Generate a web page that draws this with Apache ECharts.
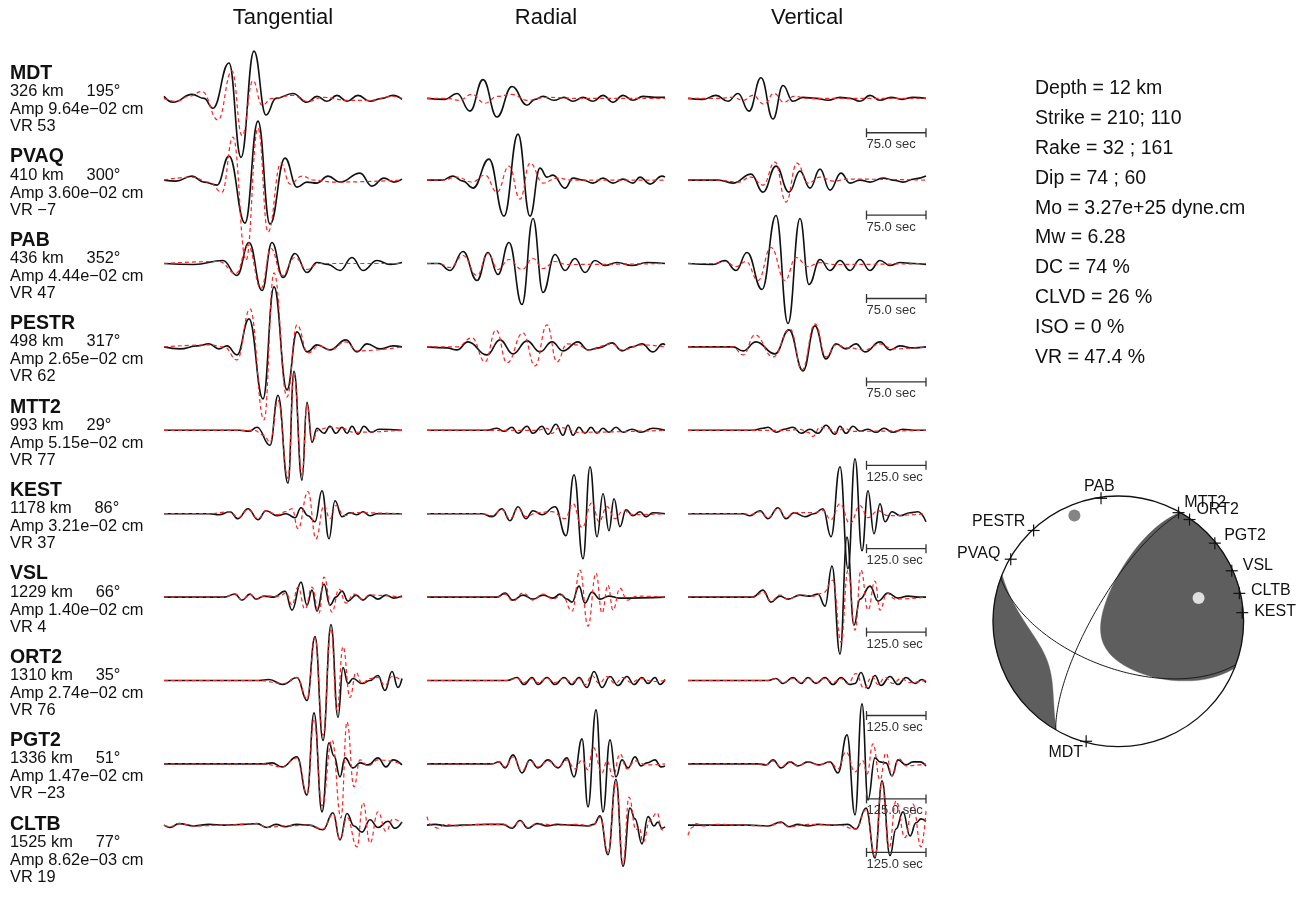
<!DOCTYPE html>
<html>
<head>
<meta charset="utf-8">
<script src="https://cdn.jsdelivr.net/npm/echarts@6/dist/echarts.min.js"></script>
<style>
  html, body { margin: 0; padding: 0; background: #ffffff; }
  #chart { width: 1303px; height: 903px; }
</style>
</head>
<body>
<div id="chart"></div>
<script>
// ---- station table ----
const stationNames = ['MDT', 'PVAQ', 'PAB', 'PESTR', 'MTT2', 'KEST', 'VSL', 'ORT2', 'PGT2', 'CLTB'];
const distanceKm = [326, 410, 436, 498, 993, 1178, 1229, 1310, 1336, 1525];
const azimuthDeg = [195, 300, 352, 317, 29, 86, 66, 35, 51, 77];
const ampCm = [9.64e-2, 3.60e-2, 4.44e-2, 2.65e-2, 5.15e-2, 3.21e-2, 1.40e-2, 2.74e-2, 1.47e-2, 8.62e-3];
const varianceReduction = [53, -7, 47, 62, 77, 37, 4, 76, -23, 19];
const componentNames = ['Tangential', 'Radial', 'Vertical'];
const windowSec = [300, 300, 300, 300, 500, 500, 500, 500, 500, 500];
const scaleBarSec = [75, 75, 75, 75, 125, 125, 125, 125, 125, 125];
const samplesPerWindow = 238;

// ---- solution ----
const depthKm = 12;
const strikeDeg = [210, 110];
const rakeDeg = [32, 161];
const dipDeg = [74, 60];
const momentDyneCm = 3.27e25;
const mw = 6.28;
const dcPct = 74;
const clvdPct = 26;
const isoPct = 0;
const totalVR = 47.4;

// ---- waveforms: pairs of [sample, normalized amplitude] at turning points ----
const obsTangential = [
  [0,2, 9,-4, 28,4, 40,0, 49,-10, 65,36, 77,-60, 90,48, 102,-17, 112,0, 129,5, 143,-4, 153,2, 163,-3, 173,3, 183,-3, 194,3, 206,-3, 218,0, 229,3, 238,-1],
  [0,0, 12,-1, 28,4, 40,-2, 53,-5, 65,24, 81,-43, 94,59, 106,-44, 121,22, 133,-7, 143,-2, 153,-3, 164,4, 176,-2, 196,7, 208,-6, 220,2, 230,-2, 238,1],
  [0,0, 30,-1, 59,3, 73,-12, 85,21, 98,-27, 108,21, 119,-14, 131,10, 143,-9, 153,1, 164,-1, 176,-7, 188,6, 199,-7, 213,3, 226,-1, 238,1],
  [0,0, 16,-2, 33,1, 45,3, 55,-2, 63,1, 73,-8, 85,28, 99,-52, 110,60, 123,-43, 133,15, 143,-5, 153,2, 166,-3, 182,7, 193,-5, 203,3, 216,-2, 229,1, 238,0],
  [0,0, 75,0, 85,-1, 93,3, 106,-15, 114,35, 124,-53, 130,59, 138,-50, 143,28, 148,-12, 153,2, 160,-3, 166,4, 172,-3, 178,3, 183,-3, 188,4, 194,-4, 200,4, 207,-2, 215,1, 238,0],
  [0,0, 45,0, 55,-1, 66,2, 74,-5, 84,5, 94,-6, 102,3, 113,-2, 122,0, 131,-4, 137,6, 144,-2, 151,-8, 158,23, 165,-25, 171,13, 178,-3, 186,1, 193,-1, 199,2, 206,-2, 213,0, 238,0],
  [0,0, 60,0, 71,3, 78,-3, 86,3, 92,-2, 100,1, 110,0, 121,6, 128,-13, 137,15, 143,-8, 148,7, 153,-14, 160,13, 166,-8, 172,0, 178,6, 184,-4, 192,2, 199,-3, 206,2, 214,-2, 222,2, 230,-1, 238,1],
  [0,0, 95,0, 105,1, 119,-4, 133,3, 143,-20, 151,44, 159,-60, 167,56, 174,-37, 179,13, 184,-3, 189,2, 198,-3, 206,0, 214,5, 221,-10, 228,9, 234,-7, 238,2],
  [0,0, 100,0, 108,1, 118,-3, 133,7, 143,-31, 150,51, 158,-48, 165,21, 170,8, 176,-13, 181,6, 189,-4, 196,1, 204,-1, 214,6, 222,-3, 229,4, 238,-1],
  [0,0, 6,-3, 15,2, 30,-1, 45,1, 60,0, 80,1, 93,2, 103,-3, 112,1, 121,-2, 133,1, 145,0, 159,-6, 169,16, 176,-19, 183,15, 190,-1, 198,-9, 206,7, 214,-3, 224,5, 231,-4, 238,4]
];
const synTangential = [
  [0,0, 12,-3, 25,2, 38,7, 54,-22, 68,28, 78,-38, 89,18, 98,-7, 108,0, 129,3, 143,-3, 160,1, 183,-2, 206,-2, 229,2, 238,0],
  [0,0, 28,3, 45,-2, 58,-12, 69,43, 82,-80, 94,52, 104,-52, 117,17, 126,-4, 138,4, 150,0, 170,-2, 238,0],
  [0,0, 55,2, 72,-10, 84,18, 97,-25, 107,15, 118,-12, 131,6, 143,-6, 155,0, 238,0],
  [0,0, 45,2, 60,0, 73,-13, 86,38, 100,-73, 110,74, 123,-50, 133,22, 144,-6, 155,1, 166,-3, 182,5, 193,-4, 238,0],
  [0,0, 90,0, 100,-5, 106,-12, 114,30, 124,-48, 130,55, 138,-45, 143,25, 148,-10, 155,1, 166,3, 178,2, 190,-2, 238,0],
  [0,0, 45,0, 66,2, 74,-4, 84,4, 94,-5, 102,3, 113,-1, 122,2, 128,5, 134,-15, 144,22, 152,-25, 160,8, 166,-5, 172,8, 180,-2, 190,1, 238,0],
  [0,0, 60,0, 71,3, 78,-3, 86,3, 92,-2, 100,1, 115,1, 122,4, 128,-8, 134,10, 141,-12, 148,10, 155,-16, 160,20, 168,-15, 175,8, 182,-6, 190,3, 198,-2, 206,2, 238,0],
  [0,0, 95,0, 119,-3, 133,3, 143,-18, 151,42, 159,-55, 167,52, 173,-30, 179,34, 186,-17, 192,8, 198,-3, 206,2, 214,3, 221,-5, 228,4, 238,0],
  [0,0, 100,0, 118,-3, 133,6, 143,-30, 150,45, 158,-42, 168,24, 177,-54, 183,42, 190,-23, 196,4, 204,-2, 214,4, 238,0],
  [0,0, 6,-2, 15,2, 30,-1, 60,0, 93,2, 103,-3, 121,-1, 145,0, 159,-5, 169,14, 176,-18, 183,10, 193,-28, 199,29, 206,-23, 214,17, 222,-8, 229,8, 238,2]
];
const obsRadial = [
  [0,0, 18,-1, 30,5, 43,-13, 56,19, 70,-19, 85,12, 100,-7, 108,-1, 116,2, 127,-2, 137,1, 146,-3, 156,1, 166,-3, 176,3, 186,-4, 196,3, 206,-2, 216,2, 228,1, 238,1],
  [0,0, 15,0, 26,4, 36,-1, 46,-8, 62,21, 77,-36, 91,46, 103,-36, 113,12, 120,3, 126,5, 138,-8, 146,2, 156,0, 166,-3, 176,2, 186,-3, 196,1, 206,-3, 213,3, 223,-4, 235,4, 238,3],
  [0,0, 12,0, 23,-7, 36,12, 50,-17, 61,11, 71,-11, 82,21, 95,-41, 106,45, 116,-29, 128,9, 138,-7, 148,5, 158,-9, 168,3, 178,-2, 190,1, 205,-2, 220,1, 238,0],
  [0,0, 20,-1, 30,-3, 41,5, 60,-8, 73,7, 86,-7, 100,6, 113,-5, 125,5, 136,-4, 151,5, 161,-3, 172,-1, 185,4, 195,-4, 205,0, 215,3, 226,-5, 236,3, 238,2],
  [0,0, 60,0, 70,2, 77,-1, 85,3, 91,-3, 100,4, 106,-3, 115,4, 121,-4, 129,6, 136,-5, 141,5, 146,-5, 152,3, 158,-3, 164,3, 170,-3, 176,2, 182,-2, 189,3, 196,-2, 205,1, 214,-2, 226,2, 238,0],
  [0,0, 55,0, 65,-3, 75,5, 83,-7, 91,7, 99,-5, 106,3, 115,-1, 128,7, 139,-22, 147,39, 156,-45, 163,47, 170,-23, 176,20, 182,-17, 187,15, 193,-13, 199,4, 206,-2, 213,2, 219,-3, 226,1, 238,0],
  [0,0, 70,0, 78,4, 86,-3, 96,2, 106,-2, 116,2, 126,-1, 133,3, 140,-2, 145,-5, 152,11, 158,-6, 165,5, 173,-2, 182,1, 192,-1, 238,0],
  [0,0, 80,0, 90,3, 97,-4, 105,3, 111,-4, 120,3, 128,-4, 137,3, 145,-4, 152,3, 160,-7, 167,9, 175,-7, 183,4, 191,-5, 200,4, 207,-4, 215,3, 221,-3, 228,3, 233,-4, 238,1],
  [0,0, 65,0, 72,2, 78,-4, 86,9, 95,-9, 103,4, 111,-4, 121,4, 131,-4, 140,6, 147,-13, 155,25, 161,-43, 169,54, 176,-48, 183,24, 189,-13, 195,4, 201,-4, 208,7, 214,-2, 220,1, 228,4, 234,-3, 238,-2],
  [0,0, 8,1, 20,-1, 35,0, 60,1, 76,1, 85,-4, 93,6, 101,-4, 110,2, 120,-1, 130,1, 145,0, 160,-1, 167,1, 173,12, 181,-38, 189,59, 196,-53, 203,22, 208,8, 215,-24, 221,11, 227,-1, 231,4, 235,-4, 238,-2]
];
const synRadial = [
  [0,0, 20,0, 32,-2, 45,4, 58,-5, 70,2, 85,4, 100,-2, 120,1, 150,0, 238,0],
  [0,0, 15,0, 30,3, 45,-2, 58,5, 70,-12, 82,14, 93,-19, 103,17, 116,-3, 130,2, 145,0, 238,0],
  [0,0, 12,0, 23,-4, 36,8, 50,-12, 61,10, 71,-6, 82,4, 95,-6, 106,5, 116,-5, 128,2, 140,-1, 238,0],
  [0,0, 30,0, 45,9, 58,-15, 69,17, 80,-16, 96,14, 108,-19, 120,22, 130,-15, 140,3, 151,2, 161,-3, 185,3, 195,-3, 215,2, 238,0],
  [0,0, 110,0, 120,2, 125,-3, 132,3, 140,2, 148,-2, 238,0],
  [0,0, 55,0, 65,-2, 75,4, 83,-5, 91,5, 99,-3, 110,1, 125,2, 138,-5, 146,10, 155,-14, 165,11, 172,-8, 180,7, 188,-5, 196,3, 206,-1, 238,0],
  [0,0, 70,0, 78,3, 86,-4, 96,4, 106,-3, 116,3, 126,-2, 135,2, 145,-14, 153,27, 161,-29, 169,24, 175,-16, 181,12, 186,-13, 193,9, 200,-3, 210,1, 238,0],
  [0,0, 80,0, 90,2, 97,-2, 105,2, 111,-2, 120,2, 128,-2, 137,2, 145,-2, 152,2, 158,-4, 165,5, 172,-3, 180,4, 188,-3, 196,3, 204,-2, 214,2, 226,-1, 238,0],
  [0,0, 65,0, 72,2, 78,-3, 86,7, 95,-7, 103,3, 111,-3, 121,3, 131,-3, 140,4, 148,-5, 155,4, 161,-6, 166,17, 175,-9, 180,3, 186,-13, 193,10, 200,-5, 208,3, 220,-1, 238,0],
  [0,11, 4,0, 11,-4, 18,1, 30,-1, 50,1, 76,1, 85,-3, 93,5, 101,-3, 110,2, 130,0, 150,1, 165,-1, 173,10, 181,-35, 189,55, 196,-50, 202,36, 209,-6, 212,-2, 216,-22, 223,6, 230,16, 235,-6, 238,-2]
];
const obsVertical = [
  [0,0, 15,-1, 28,3, 40,-3, 50,5, 61,-13, 73,21, 85,-21, 95,13, 105,-3, 115,1, 128,0, 140,-2, 152,1, 162,0, 172,-3, 182,3, 192,-2, 203,1, 214,-1, 225,1, 238,0],
  [0,0, 30,0, 45,-3, 63,6, 75,-12, 88,14, 101,-12, 112,9, 122,-8, 132,11, 142,-10, 153,7, 162,-3, 172,0, 182,-2, 195,2, 205,0, 215,-2, 226,1, 238,4],
  [0,0, 25,-1, 37,3, 48,-7, 59,11, 74,-26, 88,48, 100,-60, 112,45, 121,-21, 132,4, 142,-7, 152,3, 162,-7, 172,4, 182,-7, 192,3, 202,-2, 212,1, 225,0, 238,-1],
  [0,0, 45,0, 55,-4, 68,5, 87,-7, 101,17, 115,-24, 127,21, 138,-12, 148,3, 158,-2, 168,3, 177,-5, 192,5, 202,-3, 212,1, 225,-1, 238,0],
  [0,0, 65,0, 75,2, 80,3, 88,-2, 96,1, 105,3, 113,-3, 122,1, 130,-3, 138,5, 147,-4, 152,4, 158,-3, 165,4, 172,-1, 180,1, 188,-2, 196,2, 205,-2, 215,1, 226,0, 238,0],
  [0,0, 55,0, 62,-2, 72,3, 80,-5, 90,6, 98,-5, 106,1, 117,-3, 126,0, 135,5, 143,-23, 152,47, 160,-55, 167,55, 174,-37, 180,23, 186,-20, 192,10, 197,-8, 204,2, 212,-2, 222,1, 230,2, 238,-8],
  [0,0, 65,0, 75,7, 83,-5, 92,1, 100,-2, 112,2, 122,1, 130,3, 137,-9, 144,31, 152,-57, 159,60, 166,-28, 172,-2, 182,11, 190,-4, 200,4, 210,-1, 220,1, 230,0, 238,0],
  [0,0, 80,0, 88,2, 95,-3, 105,3, 113,-3, 120,3, 128,-3, 137,3, 145,-4, 153,3, 162,-4, 167,-3, 173,8, 180,-8, 187,5, 193,-5, 202,4, 210,-4, 218,3, 227,-3, 234,1, 238,-2],
  [0,0, 70,0, 78,-1, 85,4, 93,-4, 102,2, 110,-2, 120,2, 131,-1, 142,2, 150,-9, 159,29, 167,-51, 174,60, 180,-36, 187,6, 192,2, 198,1, 204,-12, 210,4, 218,-1, 225,2, 232,2, 238,-2],
  [0,0, 30,0, 60,0, 80,-1, 93,4, 101,-2, 110,1, 120,-1, 130,1, 145,0, 160,1, 168,-5, 178,22, 187,-42, 194,57, 202,-39, 208,-5, 215,17, 222,-14, 228,3, 233,8, 238,5]
];
const synVertical = [
  [0,0, 30,0, 45,1, 55,-2, 65,3, 76,-6, 86,5, 96,-4, 106,2, 120,0, 238,0],
  [0,0, 30,0, 50,-2, 63,3, 75,-5, 87,18, 98,-22, 109,17, 120,-3, 132,3, 145,-1, 160,1, 238,0],
  [0,0, 25,0, 37,2, 48,-3, 58,2, 70,-17, 83,16, 97,-17, 108,6, 120,-3, 132,1, 145,-1, 238,0],
  [0,0, 45,0, 55,-8, 67,12, 85,-10, 102,18, 114,-23, 127,23, 138,-10, 148,2, 160,-1, 177,-3, 192,3, 205,-2, 238,0],
  [0,0, 100,0, 112,1, 120,-2, 125,-6, 132,3, 140,2, 148,-2, 156,2, 165,-1, 238,0],
  [0,0, 55,0, 62,-1, 72,2, 80,-4, 90,5, 98,-4, 106,1, 125,1, 135,3, 143,-6, 152,10, 162,-10, 172,8, 180,-4, 190,3, 200,-2, 238,0],
  [0,0, 65,0, 75,5, 83,-4, 92,2, 100,-2, 112,2, 125,1, 135,4, 145,17, 153,-45, 160,27, 167,-33, 173,27, 180,-13, 187,16, 192,-13, 199,4, 207,-2, 238,0],
  [0,0, 80,0, 88,2, 95,-2, 105,2, 113,-2, 120,2, 128,-2, 137,2, 145,-2, 153,2, 160,-3, 168,7, 176,-8, 184,4, 190,-4, 197,3, 205,-3, 213,2, 222,-2, 238,0],
  [0,0, 70,0, 78,-1, 85,3, 93,-3, 102,2, 110,-2, 120,2, 131,-1, 142,2, 150,-5, 158,12, 167,-8, 175,3, 179,-10, 185,20, 192,-16, 198,11, 204,-12, 211,5, 218,-2, 238,0],
  [0,-13, 4,-3, 8,2, 15,-1, 30,1, 50,0, 80,-1, 93,3, 101,-2, 120,1, 150,0, 168,-5, 178,20, 187,-40, 194,55, 201,-30, 208,31, 217,-16, 225,27, 233,-28, 238,18]
];

// ---- layout ----
const FONT = '"Liberation Sans", Arial, Helvetica, sans-serif';
const panelLeft = [164, 427, 688];
const panelWidth = 238;
const firstBaseline = 96.7;
const rowStep = 83.4;
const halfHeight = 100;             // one amplitude unit per pixel
const scaleBarOffset = -35;         // bar sits below the vertical trace
const ballBox = { left: 993, top: 496, size: 250.6 };

const observed = [obsTangential, obsRadial, obsVertical];
const synthetic = [synTangential, synRadial, synVertical];

function tracePoints(flat, win) {
  const pts = [];
  for (let i = 0; i < flat.length; i += 2) {
    pts.push([flat[i] * win / samplesPerWindow, flat[i + 1]]);
  }
  return pts;
}
function fmtExp(x) {
  const parts = x.toExponential(2).split('e');
  const n = parseInt(parts[1], 10);
  return parts[0] + 'e' + (n < 0 ? '\u2212' : '+') + String(Math.abs(n)).padStart(2, '0');
}
function fmtSigned(v) { return v < 0 ? '\u2212' + Math.abs(v) : String(v); }
function textEl(x, y, text, font, align) {
  return {
    type: 'text', x: x, y: y, silent: true,
    style: { text: text, font: font, fill: '#111', align: align || 'left', verticalAlign: 'middle',
             textAlign: align || 'left', textVerticalAlign: 'middle' }
  };
}

const grids = [], xAxes = [], yAxes = [], series = [], graphics = [];

// column headings
componentNames.forEach((name, c) => {
  graphics.push(textEl(panelLeft[c] + panelWidth / 2, 18, name, '22px ' + FONT, 'center'));
});

stationNames.forEach((name, r) => {
  const base = firstBaseline + rowStep * r;
  graphics.push(textEl(10, base - 23, name, 'bold 19.5px ' + FONT));
  graphics.push(textEl(10, base - 5, distanceKm[r] + ' km     ' + azimuthDeg[r] + '\u00b0', '16.4px ' + FONT));
  graphics.push(textEl(10, base + 13, 'Amp ' + fmtExp(ampCm[r]) + ' cm', '16.4px ' + FONT));
  graphics.push(textEl(10, base + 30, 'VR ' + fmtSigned(varianceReduction[r]), '16.4px ' + FONT));

  for (let c = 0; c < 3; c++) {
    const gi = grids.length;
    grids.push({ left: panelLeft[c], top: base - halfHeight, width: panelWidth, height: 2 * halfHeight });
    xAxes.push({ gridIndex: gi, type: 'value', min: 0, max: windowSec[r], show: false });
    yAxes.push({ gridIndex: gi, type: 'value', min: -halfHeight, max: halfHeight, show: false });
    series.push({
      type: 'line', xAxisIndex: gi, yAxisIndex: gi, silent: true, clip: false, z: 2,
      data: tracePoints(observed[c][r], windowSec[r]),
      smooth: 0.45, smoothMonotone: 'x', showSymbol: false,
      lineStyle: { color: '#111111', width: 1.6 }
    });
    series.push({
      type: 'line', xAxisIndex: gi, yAxisIndex: gi, silent: true, clip: false, z: 3,
      data: tracePoints(synthetic[c][r], windowSec[r]),
      smooth: 0.45, smoothMonotone: 'x', showSymbol: false,
      lineStyle: { color: '#ff2222', width: 1.2, type: [4, 3] }
    });
    if (c === 2) {
      const win = windowSec[r], bar = scaleBarSec[r];
      series.push({
        type: 'custom', xAxisIndex: gi, yAxisIndex: gi, silent: true, clip: false, z: 4,
        data: [[win - bar, win, scaleBarOffset, bar]],
        renderItem: function (params, api) {
          const a = api.coord([api.value(0), api.value(2)]);
          const b = api.coord([api.value(1), api.value(2)]);
          const st = { stroke: '#333', lineWidth: 1.3 };
          return {
            type: 'group', children: [
              { type: 'line', shape: { x1: a[0], y1: a[1], x2: b[0], y2: b[1] }, style: st },
              { type: 'line', shape: { x1: a[0], y1: a[1] - 4.5, x2: a[0], y2: a[1] + 4.5 }, style: st },
              { type: 'line', shape: { x1: b[0], y1: b[1] - 4.5, x2: b[0], y2: b[1] + 4.5 }, style: st },
              { type: 'text', x: a[0], y: a[1] + 12,
                style: { text: api.value(3).toFixed(1) + ' sec', font: '13px ' + FONT, fill: '#333',
                         align: 'left', verticalAlign: 'middle' } }
            ]
          };
        }
      });
    }
  }
});

// solution summary
const summary = [
  'Depth = ' + depthKm + ' km',
  'Strike = ' + strikeDeg[0] + '; ' + strikeDeg[1],
  'Rake = ' + rakeDeg[0] + ' ; ' + rakeDeg[1],
  'Dip = ' + dipDeg[0] + ' ; ' + dipDeg[1],
  'Mo = ' + fmtExp(momentDyneCm) + ' dyne.cm',
  'Mw = ' + mw.toFixed(2),
  'DC = ' + dcPct + ' %',
  'CLVD = ' + clvdPct + ' %',
  'ISO = ' + isoPct + ' %',
  'VR = ' + totalVR.toFixed(1) + ' %'
];
summary.forEach((line, k) => graphics.push(textEl(1035, 89 + 29.8 * k, line, '19.5px ' + FONT)));

// ---- focal mechanism (lower hemisphere, equal-area) ----
const D2R = Math.PI / 180;
const dot = (a, b) => a[0] * b[0] + a[1] * b[1] + a[2] * b[2];
const cross = (a, b) => [a[1] * b[2] - a[2] * b[1], a[2] * b[0] - a[0] * b[2], a[0] * b[1] - a[1] * b[0]];
const unit = (a) => { const l = Math.hypot(a[0], a[1], a[2]); return [a[0] / l, a[1] / l, a[2] / l]; };
const down = (a) => (a[2] < 0 ? [-a[0], -a[1], -a[2]] : a);

function faultVectors(strike, dip, rake) {
  const f = strike * D2R, d = dip * D2R, l = rake * D2R;
  const n = [-Math.sin(d) * Math.sin(f), Math.sin(d) * Math.cos(f), -Math.cos(d)];
  const s = [Math.cos(l) * Math.cos(f) + Math.cos(d) * Math.sin(l) * Math.sin(f),
             Math.cos(l) * Math.sin(f) - Math.cos(d) * Math.sin(l) * Math.cos(f),
             -Math.sin(l) * Math.sin(d)];
  return {
    n: n, s: s,
    T: down(unit([n[0] + s[0], n[1] + s[1], n[2] + s[2]])),
    P: down(unit([n[0] - s[0], n[1] - s[1], n[2] - s[2]])),
    B: down(unit(cross(n, s)))
  };
}
function project(v) {          // (north, east, down) -> (x east, y north)
  v = down(v);
  const inc = Math.acos(Math.min(1, v[2]));
  const r = Math.SQRT2 * Math.sin(inc / 2);
  const az = Math.atan2(v[1], v[0]);
  return [r * Math.sin(az), r * Math.cos(az)];
}
function ray(azDeg, incDeg) {
  const a = azDeg * D2R, i = incDeg * D2R;
  return [Math.sin(i) * Math.cos(a), Math.sin(i) * Math.sin(a), Math.cos(i)];
}

const fv = faultVectors(strikeDeg[0], dipDeg[0], rakeDeg[0]);
const eps = (100 - dcPct) / 200;                 // CLVD ratio
const eig = [1, -eps, -(1 - eps)];               // T, null, P

function radiation(x, y) {
  let r = Math.hypot(x, y);
  if (r > 1 + 1e-9) return NaN;
  r = Math.min(r, 1);
  const inc = 2 * Math.asin(r / Math.SQRT2);
  const az = Math.atan2(x, y);
  const d = [Math.sin(inc) * Math.cos(az), Math.sin(inc) * Math.sin(az), Math.cos(inc)];
  const t = dot(d, fv.T), b = dot(d, fv.B), p = dot(d, fv.P);
  return eig[0] * t * t + eig[1] * b * b + eig[2] * p * p;
}

// compressional areas: scan rows, then join overlapping runs into outlines
const FILL_ROWS = 400, FILL_STEPS = 700;
const dRow = 2 / FILL_ROWS;
const lobes = [];
let open = [];
for (let j = 0; j <= FILL_ROWS; j++) {
  const y = Math.max(-1, Math.min(1, 1 - j * dRow));
  const w = Math.sqrt(Math.max(0, 1 - y * y));
  const runs = [];
  if (w > 1e-6) {
    let inside = false, start = -w, prevX = -w;
    for (let k = 0; k <= FILL_STEPS; k++) {
      const x = -w + 2 * w * k / FILL_STEPS;
      const pos = radiation(x * 0.999999, y) > 0;
      if (k === 0) { inside = pos; start = -w; }
      else if (pos !== inside) {
        let lo = prevX, hi = x;
        for (let it = 0; it < 24; it++) {
          const m = (lo + hi) / 2;
          if ((radiation(m, y) > 0) === inside) lo = m; else hi = m;
        }
        const edge = (lo + hi) / 2;
        if (inside) runs.push([start, edge]); else start = edge;
        inside = pos;
      }
      prevX = x;
    }
    if (inside) runs.push([start, w]);
  }
  const next = [];
  runs.forEach((run) => {
    const lobe = open.find((L) => next.indexOf(L) < 0 && run[0] <= L.last[1] && run[1] >= L.last[0]);
    if (lobe) {
      lobe.left.push([run[0], y]); lobe.right.push([run[1], y]); lobe.last = run; next.push(lobe);
    } else {
      const L = { left: [[run[0], y]], right: [[run[1], y]], last: run };
      lobes.push(L); next.push(L);
    }
  });
  open = next;
}
const lobeOutlines = lobes.map((L) => L.left.concat(L.right.slice().reverse()));

function greatCircle(normal) {
  const a = unit([-normal[1], normal[0], 0]);
  let b = unit(cross(normal, a));
  if (b[2] < 0) b = [-b[0], -b[1], -b[2]];
  const pts = [];
  for (let t = 0; t <= 180; t += 1) {
    const c = Math.cos(t * D2R), s = Math.sin(t * D2R);
    pts.push(project([c * a[0] + s * b[0], c * a[1] + s * b[1], c * a[2] + s * b[2]]));
  }
  return pts;
}

const bi = grids.length;
grids.push({ left: ballBox.left, top: ballBox.top, width: ballBox.size, height: ballBox.size });
xAxes.push({ gridIndex: bi, type: 'value', min: -1, max: 1, show: false });
yAxes.push({ gridIndex: bi, type: 'value', min: -1, max: 1, show: false });

series.push({
  type: 'custom', xAxisIndex: bi, yAxisIndex: bi, silent: true, z: 5, clip: false,
  data: lobeOutlines.map((o, i) => [0, 0, i]),
  renderItem: function (params, api) {
    const outline = lobeOutlines[api.value(2)];
    return { type: 'polygon', shape: { points: outline.map((p) => api.coord(p)) },
             style: { fill: '#5e5e5e', stroke: '#5e5e5e', lineWidth: 0.4 } };
  }
});
[fv.n, fv.s].forEach((nrm) => {
  series.push({
    type: 'line', xAxisIndex: bi, yAxisIndex: bi, silent: true, z: 6, clip: false,
    data: greatCircle(nrm), showSymbol: false, smooth: false,
    lineStyle: { color: '#1a1a1a', width: 1 }
  });
});
series.push({
  type: 'custom', xAxisIndex: bi, yAxisIndex: bi, silent: true, z: 7, clip: false,
  data: [[0, 0]],
  renderItem: function (params, api) {
    const c = api.coord([0, 0]), e = api.coord([1, 0]);
    return { type: 'circle', shape: { cx: c[0], cy: c[1], r: e[0] - c[0] },
             style: { fill: 'none', stroke: '#111', lineWidth: 1.3 } };
  }
});
series.push({
  type: 'scatter', xAxisIndex: bi, yAxisIndex: bi, silent: true, z: 8,
  symbolSize: 12,
  data: [
    { value: project(fv.P), itemStyle: { color: '#666666' } },
    { value: project(fv.T), itemStyle: { color: '#ffffff' } }
  ]
});
const plotIncidence = 89;
series.push({
  type: 'custom', xAxisIndex: bi, yAxisIndex: bi, silent: true, z: 9, clip: false,
  data: stationNames.map((nm, i) => {
    const p = project(ray(azimuthDeg[i], plotIncidence));
    return [p[0], p[1], azimuthDeg[i], i];
  }),
  renderItem: function (params, api) {
    const p = api.coord([api.value(0), api.value(1)]);
    const az = api.value(2) * D2R;
    const sx = Math.sin(az), cy = Math.cos(az);
    const align = sx > 0.2 ? 'left' : (sx < -0.2 ? 'right' : 'center');
    const st = { stroke: '#111', lineWidth: 1.2 };
    return {
      type: 'group', children: [
        { type: 'line', shape: { x1: p[0] - 6, y1: p[1], x2: p[0] + 6, y2: p[1] }, style: st },
        { type: 'line', shape: { x1: p[0], y1: p[1] - 6, x2: p[0], y2: p[1] + 6 }, style: st },
        { type: 'text', x: p[0] + 12 * sx, y: p[1] - 12 * cy,
          style: { text: stationNames[api.value(3)], font: '16px ' + FONT, fill: '#111',
                   align: align, verticalAlign: 'middle' } }
      ]
    };
  }
});

const chart = echarts.init(document.getElementById('chart'), null, { renderer: 'canvas' });
chart.setOption({
  animation: false,
  backgroundColor: '#ffffff',
  grid: grids,
  xAxis: xAxes,
  yAxis: yAxes,
  graphic: { elements: graphics },
  series: series
});
</script>
</body>
</html>
